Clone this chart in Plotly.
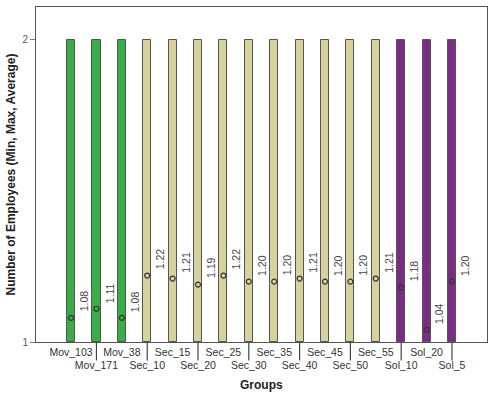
import plotly.graph_objects as go

groups = ["Mov_103", "Mov_171", "Mov_38", "Sec_10", "Sec_15", "Sec_20", "Sec_25", "Sec_30",
          "Sec_35", "Sec_40", "Sec_45", "Sec_50", "Sec_55", "Sol_10", "Sol_20", "Sol_5"]
min_vals = [1] * 16
max_vals = [2] * 16
avg_vals = [1.08, 1.11, 1.08, 1.22, 1.21, 1.19, 1.22, 1.20, 1.20, 1.21, 1.20, 1.20, 1.21, 1.18, 1.04, 1.20]
avg_labels = ["%.2f" % v for v in avg_vals]

def color_for(g):
    if g.startswith("Mov"):
        return "#3aad48"
    if g.startswith("Sec"):
        return "#d5d29b"
    return "#7b2d85"

colors = [color_for(g) for g in groups]
xs = list(range(len(groups)))

fig = go.Figure()
fig.add_trace(go.Bar(
    x=xs, y=[mx - mn for mx, mn in zip(max_vals, min_vals)], base=min_vals,
    width=0.32, marker=dict(color=colors, line=dict(color="#555555", width=1)),
    hoverinfo="skip", showlegend=False))
fig.add_trace(go.Scatter(
    x=xs, y=avg_vals, mode="markers",
    marker=dict(symbol="circle-open", size=5, color="#333333", line=dict(width=1.2)),
    showlegend=False))

for x, v, t in zip(xs, avg_vals, avg_labels):
    fig.add_annotation(x=x, y=v, text=t, textangle=-90, showarrow=False,
                       xanchor="left", yanchor="bottom", xshift=5, yshift=4,
                       font=dict(family="Liberation Sans, Arial", size=10.5, color="#444444"))

ticktext = [g if i % 2 == 0 else "<br>" + g for i, g in enumerate(groups)]
for i in xs:
    if i % 2 == 1:
        fig.add_shape(type="line", xref="x", yref="paper", x0=i, x1=i, y0=0, y1=-0.055,
                      line=dict(color="#444444", width=1.2))

fig.add_annotation(xref="paper", yref="paper", x=0.5, y=-0.128, yanchor="middle",
                   text="<b>Groups</b>", showarrow=False,
                   font=dict(family="Liberation Sans, Arial", size=12, color="#222222"))

fig.update_layout(
    width=493, height=396,
    margin=dict(l=36, r=6, t=7, b=54),
    plot_bgcolor="white", paper_bgcolor="white",
    font=dict(family="Liberation Sans, Arial", size=11, color="#333333"),
    xaxis=dict(range=[-1.38, 16.38], tickmode="array", tickvals=xs, ticktext=ticktext,
               tickangle=0, automargin=False,
               ticks="", showgrid=False, zeroline=False, showline=True, linecolor="#555555",
               mirror=True, tickfont=dict(size=10.5, color="#333333")),
    yaxis=dict(range=[1, 2.109], tickmode="array", tickvals=[1, 2], ticktext=["1", "2"],
               ticks="outside", ticklen=5, tickcolor="#777777", showgrid=False, zeroline=False,
               showline=True, linecolor="#555555", mirror=True, automargin=False,
               tickfont=dict(size=10, color="#555555"),
               title=dict(text="<b>Number of Employees (Min, Max, Average)</b>",
                          font=dict(size=12, color="#222222"), standoff=4)),
    bargap=0,
)

fig.write_html("out.html")
